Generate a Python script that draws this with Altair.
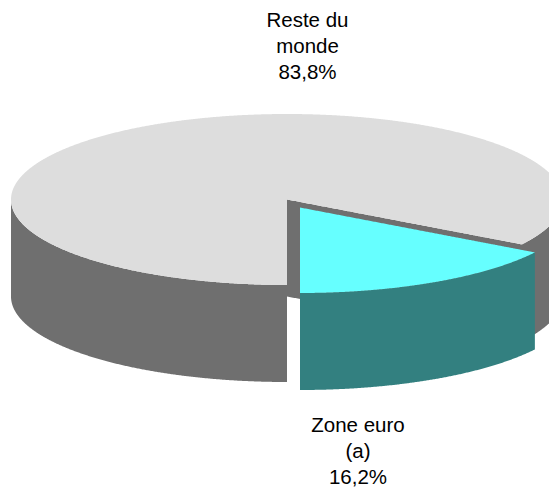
import numpy as np
import pandas as pd
import altair as alt

shares = [83.8, 16.2]
labels = [["Reste du", "monde", "83,8%"], ["Zone euro", "(a)", "16,2%"]]
label_x = [307.5, 358]
label_y = [[26.5, 52.5, 78.5], [432, 458, 484]]
colors = dict(top="#DDDDDD", wall="#6F6F6F", stop="#66FFFF", swall="#338080", text="#000000")

CX, CY, RX, RY, DEPTH = 287.0, 199.5, 276.0, 85.5, 97.0
DX, DY = 13.0, 8.0   # offset of the pulled-out slice

sweep = np.radians(shares[1] / 100 * 360)
def low(x):
    return CY + RY * np.sqrt(np.clip(1 - ((x - CX) / RX) ** 2, 0, 1))
def up(x):
    return CY - RY * np.sqrt(np.clip(1 - ((x - CX) / RX) ** 2, 0, 1))

cut_x = CX + RX * np.sin(sweep)
cut_y = CY + RY * np.cos(sweep)
def big_low(x):
    x = np.asarray(x, dtype=float)
    line = CY + (x - CX) * (cut_y - CY) / (cut_x - CX)
    return np.where(x <= CX, low(x), np.where(x < cut_x, line, low(x)))

t = np.linspace(-np.pi, 0, 721)
xs = np.unique(np.concatenate([CX + RX * np.cos(t), [CX, CX + 1e-6, cut_x]]))

def frame(x, y, y2):
    return pd.DataFrame(dict(x=np.round(x, 3), top=np.round(y, 3), bot=np.round(y2, 3)))

left = xs[xs <= CX]
right = xs[xs >= CX + 1e-7]
wall_left = frame(left, low(left), low(left) + DEPTH)
wall_right = frame(right, big_low(right), big_low(right) + DEPTH)
top = frame(xs, up(xs), big_low(xs))

sx0 = CX + DX
scy = CY + DY
sx1 = sx0 + RX * np.sin(sweep)
sy1 = scy + RY * np.cos(sweep)
tt = np.linspace(0, sweep, 241)
sxs = sx0 + RX * np.sin(tt)
slow = scy + RY * np.cos(tt)
sline = scy + (sxs - sx0) * (sy1 - scy) / (sx1 - sx0)
swall = frame(sxs, slow, slow + DEPTH)
stop = frame(sxs, sline, slow)

xscale = alt.Scale(domain=[8, 549], nice=False, zero=False)
yscale = alt.Scale(domain=[488, 8], nice=False, zero=False)

def area(df, color):
    return alt.Chart(df).mark_area(color=color, clip=True, opacity=1).encode(
        x=alt.X("x:Q", scale=xscale, axis=None),
        y=alt.Y("top:Q", scale=yscale, axis=None, stack=None),
        y2=alt.Y2("bot:Q"),
    )

text_rows = [dict(x=lx, y=ly, t=s) for lx, ys, ls in zip(label_x, label_y, labels) for ly, s in zip(ys, ls)]
text = alt.Chart(pd.DataFrame(text_rows)).mark_text(
    font="Liberation Sans", fontSize=20.5, color=colors["text"], align="center", baseline="alphabetic"
).encode(
    x=alt.X("x:Q", scale=xscale, axis=None),
    y=alt.Y("y:Q", scale=yscale, axis=None),
    text="t:N",
)

chart = alt.layer(
    area(wall_left, colors["wall"]),
    area(wall_right, colors["wall"]),
    area(top, colors["top"]),
    area(swall, colors["swall"]),
    area(stop, colors["stop"]),
    text,
).properties(width=541, height=480, padding=0, autosize=alt.AutoSizeParams(type="none")).configure_view(stroke=None)

chart.save("out.html", embed_options={"renderer": "svg", "actions": False})
